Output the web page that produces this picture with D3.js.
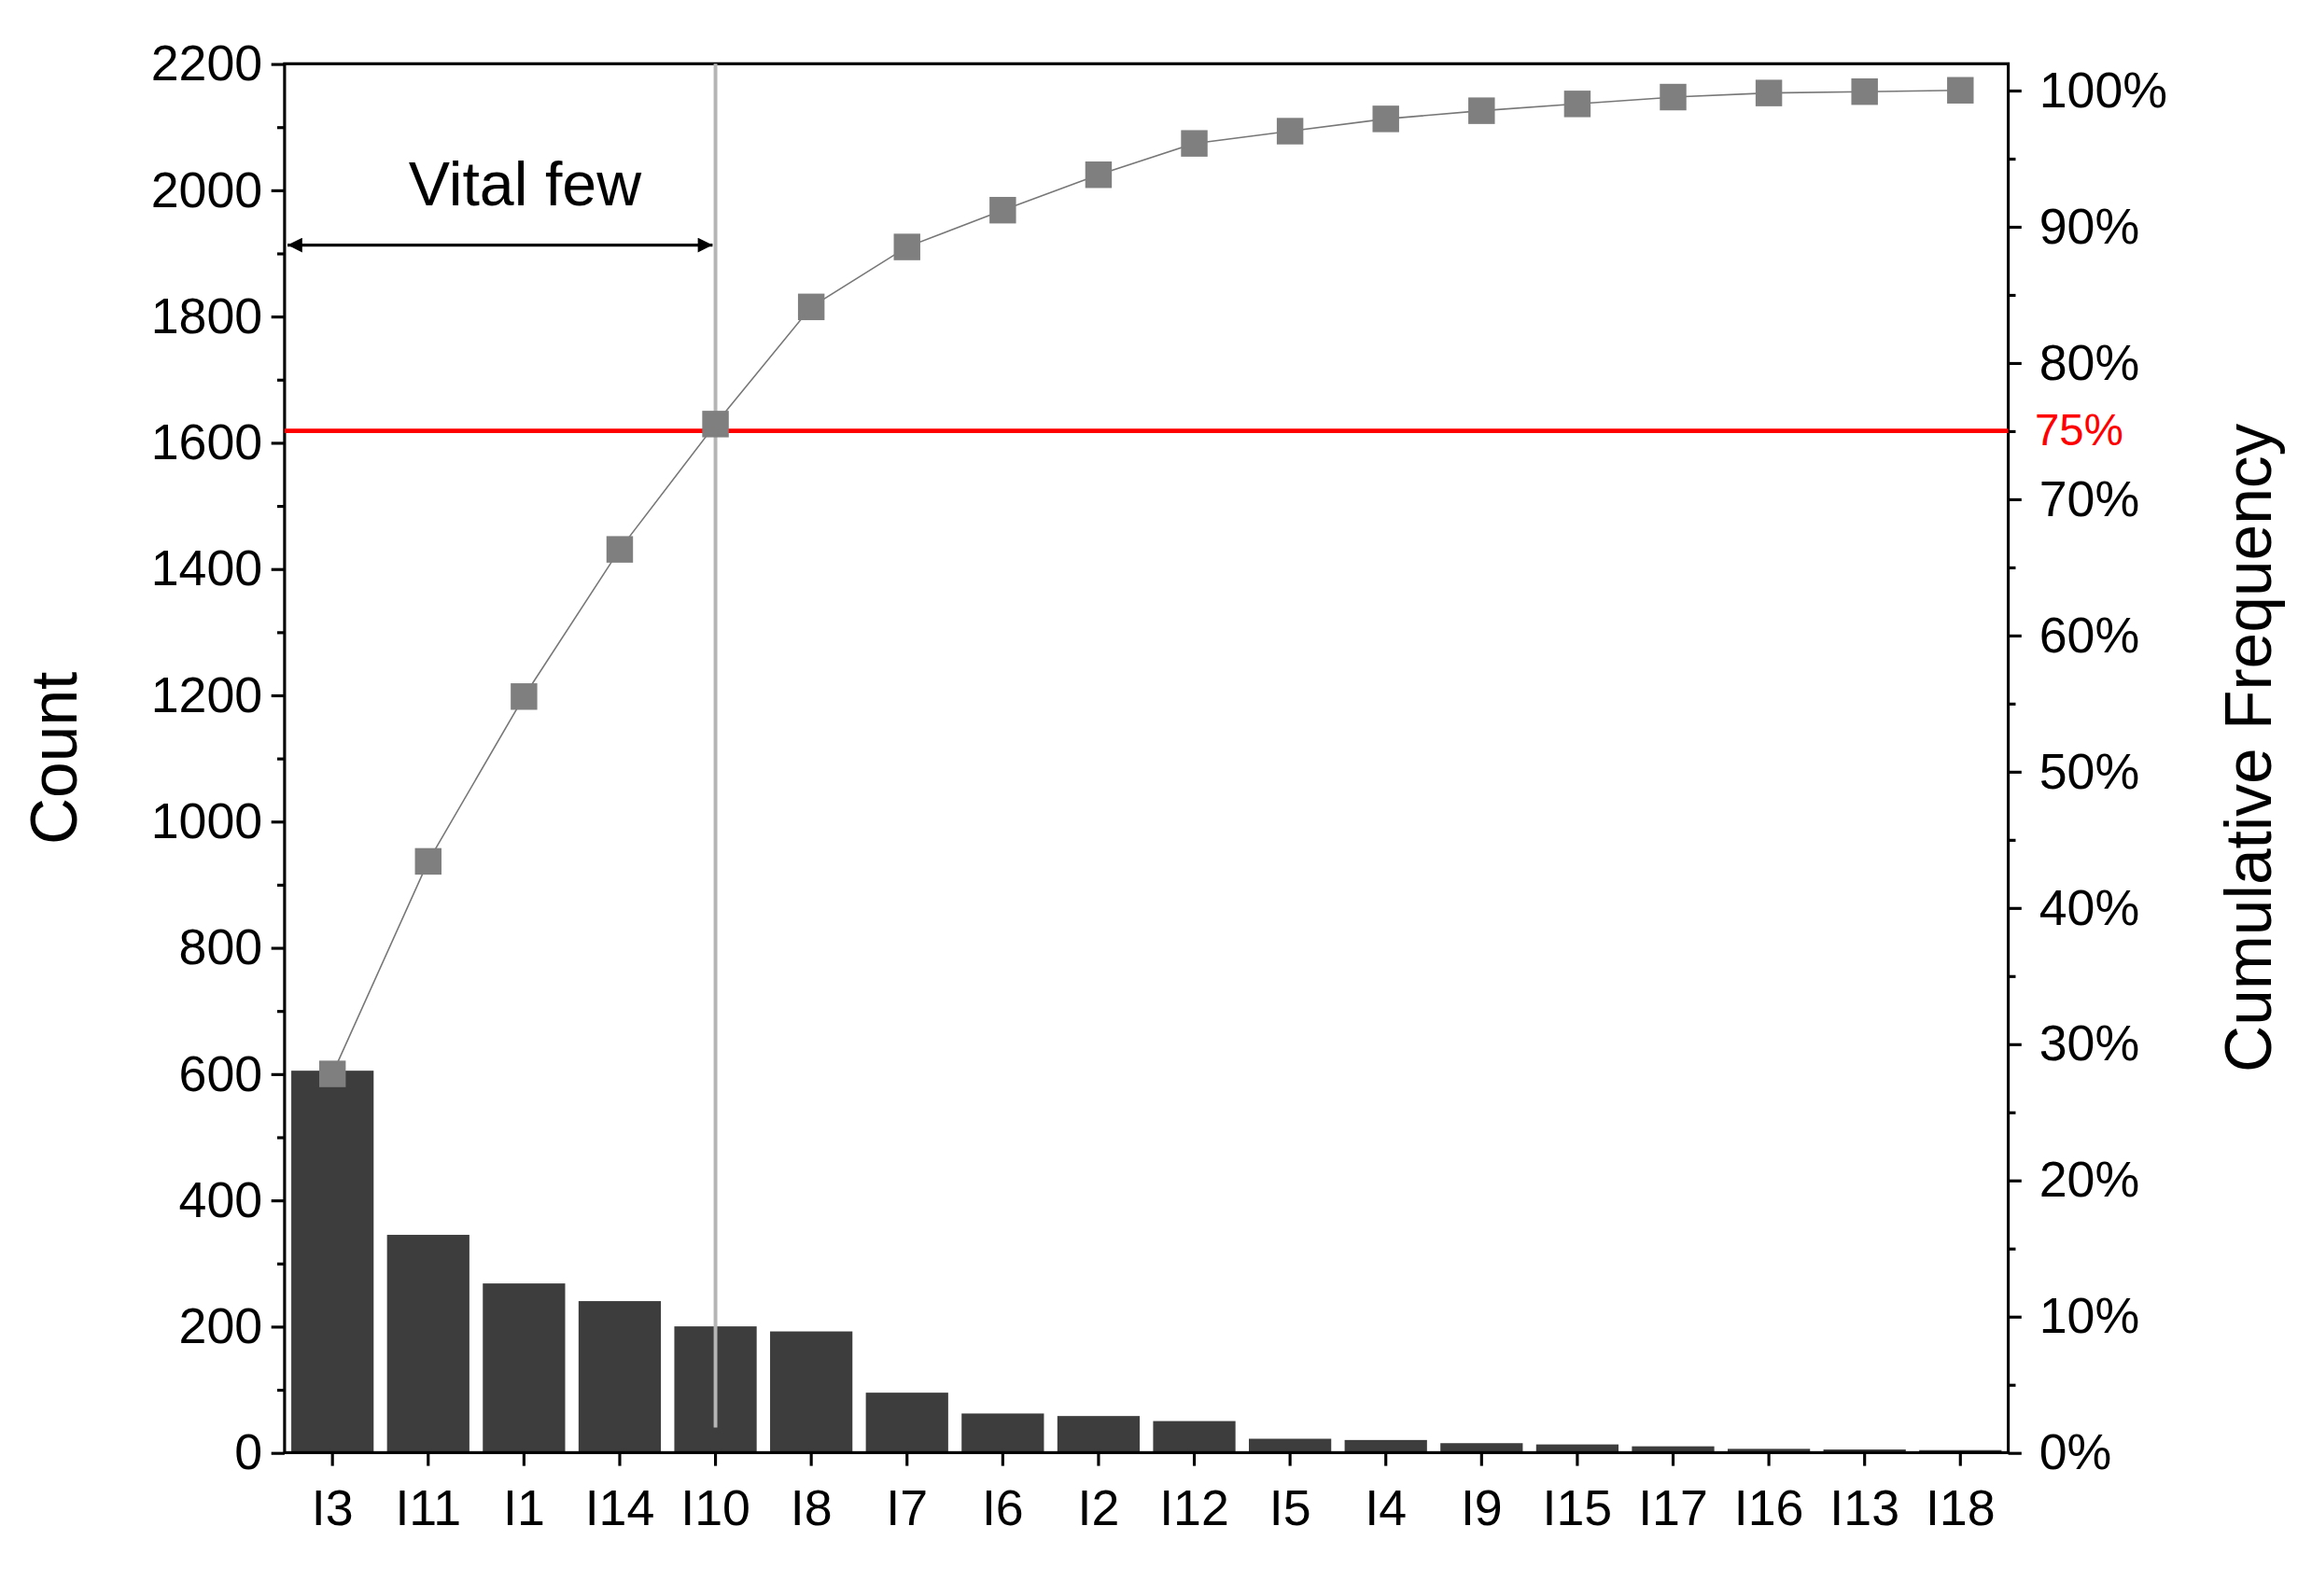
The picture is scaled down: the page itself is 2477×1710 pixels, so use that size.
<!DOCTYPE html>
<html><head><meta charset="utf-8">
<script src="https://cdn.jsdelivr.net/npm/d3@7"></script>
<style>body{margin:0;background:#fff}text{font-family:"Liberation Sans",Arial,sans-serif}</style>
</head><body><div id="chart"></div>
<script>
'use strict';
const categories = ['I3','I11','I1','I14','I10','I8','I7','I6','I2','I12','I5','I4','I9','I15','I17','I16','I13','I18'];
const counts = [605,345,268,240,200,192,95,62,58,50,22,20,15,13,10,6,5,4];
const cumulative = [27.8,43.4,55.5,66.3,75.5,84.1,88.5,91.2,93.8,96.1,97.0,97.9,98.5,99.0,99.5,99.8,99.9,100];
const countTicks = d3.range(0,2201,200);
const pctTicks = d3.range(0,101,10);

const W = 1568, H = 1082;
const m = {left:193,right:1362,top:43,bottom:985};
const svg = d3.select('#chart').append('svg')
  .attr('width',2477).attr('height',1710).attr('viewBox',`0 0 ${W} ${H}`);

const x = d3.scaleBand().domain(categories).range([m.left,m.right]).paddingInner(0.14).paddingOuter(0.07);
const y = d3.scaleLinear().domain([0,2200]).range([m.bottom,m.top]);
const y2 = d3.scaleLinear().domain([0,100]).range([m.bottom,61]);

svg.selectAll('rect.bar').data(counts).enter().append('rect')
  .attr('x',(d,i)=>x(categories[i])).attr('width',x.bandwidth())
  .attr('y',d=>y(d)).attr('height',d=>y(0)-y(d)).attr('fill','#3d3d3d');

// frame
svg.append('rect').attr('x',m.left).attr('y',m.top).attr('width',m.right-m.left).attr('height',m.bottom-m.top)
  .attr('fill','none').attr('stroke','#000').attr('stroke-width',2);

const fs = '34px';
svg.append('g').attr('transform',`translate(${m.left},0)`)
  .call(d3.axisLeft(y).tickValues(countTicks).tickSize(9).tickPadding(6).tickFormat(d3.format('d')));
svg.append('g').attr('transform',`translate(${m.left},0)`)
  .call(d3.axisLeft(y).tickValues(d3.range(100,2200,200)).tickSize(5).tickFormat(''));
svg.append('g').attr('transform',`translate(${m.right},0)`)
  .call(d3.axisRight(y2).tickValues(pctTicks).tickSize(9).tickPadding(12).tickFormat(d=>d+'%'));
svg.append('g').attr('transform',`translate(${m.right},0)`)
  .call(d3.axisRight(y2).tickValues(d3.range(5,100,10)).tickSize(5).tickFormat(''));
const xa = svg.append('g').attr('transform',`translate(0,${m.bottom})`)
  .call(d3.axisBottom(x).tickSize(9).tickPadding(8));
svg.selectAll('.domain').remove();
svg.selectAll('.tick line').attr('stroke','#000').attr('stroke-width',2);
svg.selectAll('.tick text').attr('font-size',fs).attr('fill','#000');
xa.selectAll('.tick text').attr('dy','0.95em');

// 75% line
svg.append('line').attr('x1',m.left).attr('x2',m.right).attr('y1',y2(75)).attr('y2',y2(75))
  .attr('stroke','#ff0000').attr('stroke-width',3);
svg.append('text').attr('x',m.right+18).attr('y',y2(75)+10).attr('fill','#ff0000')
  .attr('font-size','30px').text('75%');

// vertical line at I10
const cx = c => x(c)+x.bandwidth()/2;
svg.append('line').attr('x1',cx('I10')).attr('x2',cx('I10')).attr('y1',m.top).attr('y2',968)
  .attr('stroke','#b5b5b5').attr('stroke-width',2.5);

// cumulative line
svg.append('path').datum(cumulative)
  .attr('d',d3.line().x((d,i)=>cx(categories[i])).y(d=>y2(d)))
  .attr('fill','none').attr('stroke','#777').attr('stroke-width',1);
svg.selectAll('rect.pt').data(cumulative).enter().append('rect')
  .attr('x',(d,i)=>cx(categories[i])-9).attr('y',d=>y2(d)-9).attr('width',18).attr('height',18)
  .attr('fill','#7f7f7f');

// Vital few arrow
const defs = svg.append('defs');
defs.append('marker').attr('id','ah').attr('viewBox','0 0 10 10').attr('refX',10).attr('refY',5)
  .attr('markerWidth',22).attr('markerHeight',10).attr('markerUnits','userSpaceOnUse').attr('orient','auto-start-reverse')
  .append('path').attr('d','M0,0 L10,5 L0,10 z').attr('fill','#000');
svg.append('line').attr('x1',m.left+2).attr('x2',cx('I10')-2).attr('y1',166).attr('y2',166)
  .attr('stroke','#000').attr('stroke-width',2)
  .attr('marker-start','url(#ah)').attr('marker-end','url(#ah)');
svg.append('text').attr('x',356).attr('y',139).attr('text-anchor','middle').attr('font-size','42px').text('Vital few');

// axis titles
svg.append('text').attr('transform','translate(52,514) rotate(-90)').attr('text-anchor','middle')
  .attr('font-size','44px').text('Count');
svg.append('text').attr('transform','translate(1540,507) rotate(-90)').attr('text-anchor','middle')
  .attr('font-size','44px').text('Cumulative Frequency');
</script></body></html>
